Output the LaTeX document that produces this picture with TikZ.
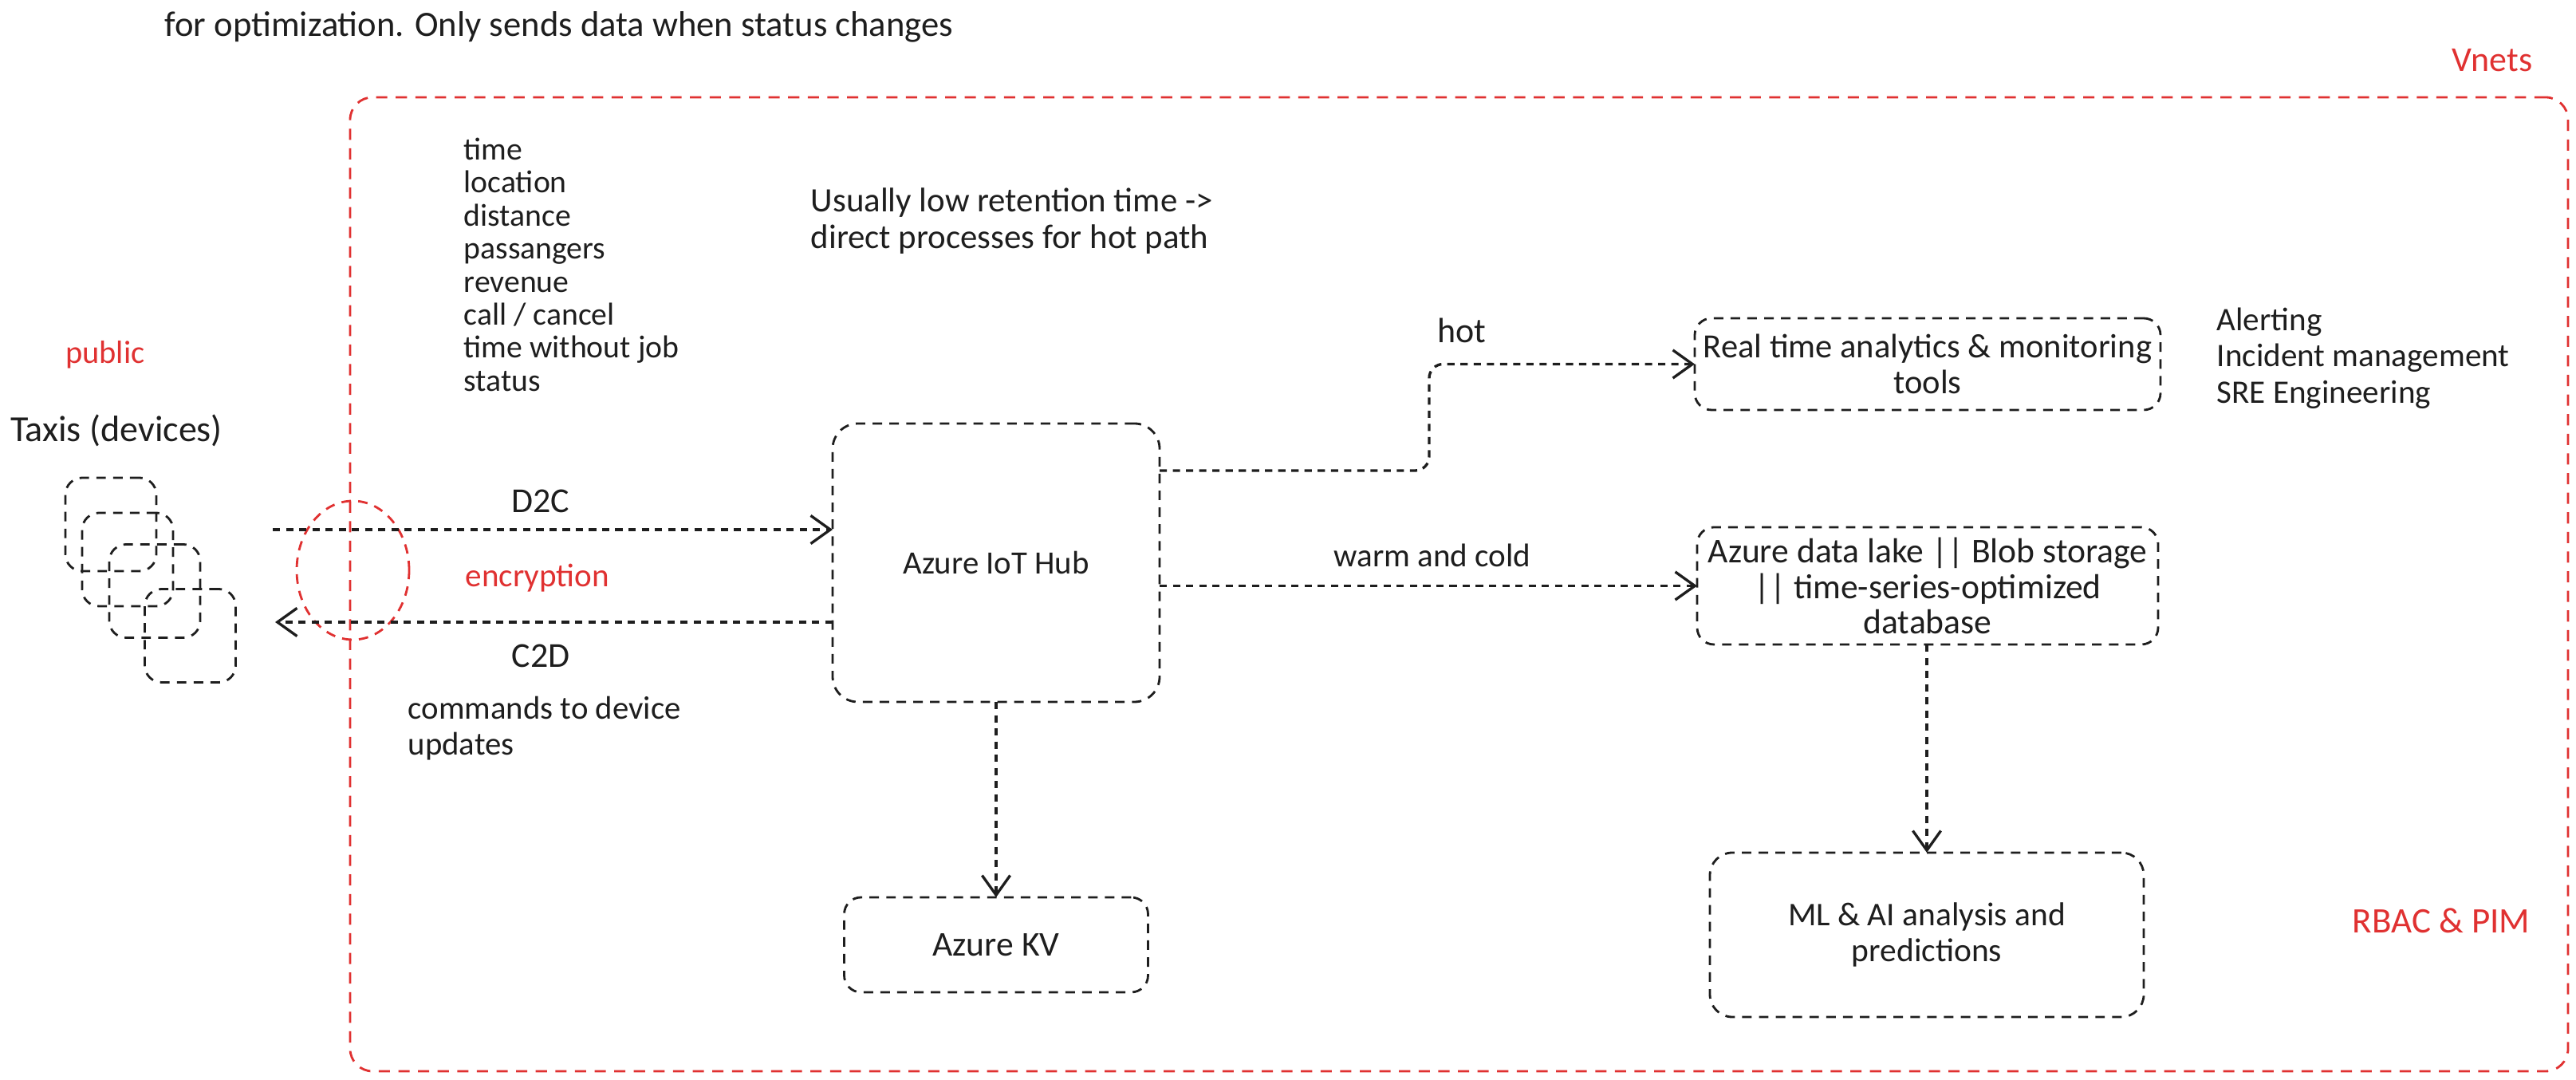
\documentclass[tikz,border=0pt]{standalone}
\usepackage{fontspec}
\setmainfont{Carlito}
\usepackage{xcolor}
\usetikzlibrary{arrows.meta,shapes.geometric}
\definecolor{inkblack}{HTML}{1E1E1E}
\definecolor{inkred}{HTML}{E03131}
\tikzset{
	size/.style={font=\fontsize{#1}{12.6}\selectfont},
	label/.style={text=inkblack,inner sep=0,align=left,size=12.5},
	redlabel/.style={label,text=inkred},
	box/.style={draw=inkblack,line width=0.8pt,dash pattern=on 3.4pt off 2.6pt,rounded corners=6pt,inner sep=0,outer sep=0,align=center,text=inkblack,size=12.4},
	taxi/.style={box,minimum width=1.14cm,minimum height=1.17cm},
	flow/.style={color=inkblack,line width=0.95pt,dash pattern=on 2.6pt off 2.1pt,rounded corners=5pt,-{Straight Barb[length=7pt,width=10pt]}}
}
\begin{document}
\begin{tikzpicture}
	\useasboundingbox (0,0) rectangle (32.3,13.54);
	% boundary
	\node at (18.295,6.215)(vnet)[draw=inkred,line width=0.8pt,dash pattern=on 4pt off 3pt,rounded corners=8pt,inner sep=0,outer sep=0,minimum width=27.81cm,minimum height=12.21cm]{};
	\node at (4.425,6.39)(crypt)[ellipse,draw=inkred,line width=0.8pt,dash pattern=on 3.4pt off 2.6pt,inner sep=0,outer sep=0,minimum width=1.41cm,minimum height=1.74cm]{};

	% devices
	\node at (1.39,6.965)(taxia)[taxi]{};
	\node at (1.60,6.525)(taxib)[taxi]{};
	\node at (1.94,6.13)(taxic)[taxi]{};
	\node at (2.385,5.57)(taxid)[taxi]{};

	% services
	\node at (12.49,6.485)(hub)[box,minimum width=4.10cm,minimum height=3.49cm,rounded corners=9pt,size=11.6]{Azure IoT Hub};
	\node at (12.49,1.695)(kv)[box,minimum width=3.81cm,minimum height=1.19cm,size=12.4]{Azure KV};
	\node at (24.17,8.975)(rt)[box,minimum width=5.84cm,minimum height=1.15cm,size=12.1]{Real time analytics \& monitoring\\tools};
	\node at (24.17,6.195)(lake)[box,minimum width=5.78cm,minimum height=1.47cm]{Azure data lake || Blob storage\\|| time-series-optimized\\database};
	\node at (24.16,1.82)(ml)[box,minimum width=5.44cm,minimum height=2.06cm,rounded corners=8pt,size=11.8]{ML \& AI analysis and\\predictions};

	\coordinate (d2cstart) at (3.42,6.90);
	\coordinate (c2dend) at (3.45,5.74);
	\coordinate (hotstart) at (14.54,7.64);
	\coordinate (hotbend) at (17.92,8.0);
	\path[flow]
		(d2cstart) edge (hub.west |- d2cstart)
		(hub.west |- c2dend) edge (c2dend)
		(hub.east |- lake.west) edge (lake.west)
		(hub.south) edge (kv.north)
		(ml.north |- lake.south) edge (ml.north);
	\draw[flow] (hotstart) -| (hotbend) |- (rt.west);

	% texts
	\node at (2.06,13.20)(note)[label,anchor=west,size=12.7]{for optimization. Only sends data when status changes};
	\node at (31.25,12.78)(vnets)[redlabel]{Vnets};
	\node at (1.32,9.09)(public)[redlabel,size=11.5]{public};
	\node at (1.46,8.14)(taxis)[label,size=13.1]{Taxis (devices)};
	\node at (5.81,11.82)(fields)[label,anchor=north west,font=\fontsize{11.3}{11.8}\selectfont]{time\\location\\distance\\passangers\\revenue\\call / cancel\\time without job\\status};
	\node at (10.16,10.77)(retention)[label,anchor=west,font=\fontsize{12.2}{13.3}\selectfont]{Usually low retention time ->\\direct processes for hot path};
	\node at (6.78,7.26)(d2c)[label]{D2C};
	\node at (6.74,6.29)(encryption)[redlabel,size=11.7]{encryption};
	\node at (6.78,5.32)(c2d)[label]{C2D};
	\node at (5.11,4.41)(commands)[label,anchor=west,size=11.6]{commands to device\\updates};
	\node at (18.33,9.40)(hot)[label]{hot};
	\node at (17.96,6.58)(warm)[label,size=11.7]{warm and cold};
	\node at (27.79,9.05)(alerting)[label,anchor=west,font=\fontsize{11.7}{13}\selectfont]{Alerting\\Incident management\\SRE Engineering};
	\node at (30.61,2.0)(rbac)[redlabel,size=12.8]{RBAC \& PIM};
\end{tikzpicture}
\end{document}
